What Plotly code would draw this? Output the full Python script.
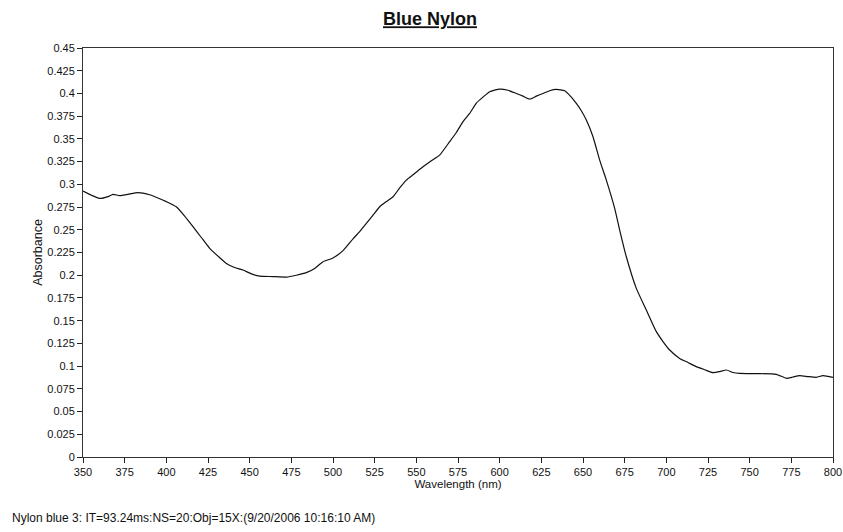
import plotly.graph_objects as go

wavelength = [350, 355, 360, 365, 368, 372, 377, 383, 390, 395, 400, 406, 411, 416, 421, 426,
              431, 436, 441, 446, 451, 456, 464, 472, 478, 484, 489, 494, 500, 506, 512, 516,
              520, 524, 528, 532, 536, 540, 544, 549, 554, 559, 564, 570, 574, 578, 582, 586,
              590, 594, 600, 605, 610, 614, 618, 622, 626, 630, 634, 639, 643, 646, 649, 652,
              656, 660, 664, 669, 672, 676, 682, 688, 694, 698, 702, 708, 713, 718, 723, 728,
              732, 736, 740, 744, 754, 766, 772, 776, 780, 785, 790, 794, 800]
absorbance = [0.2925, 0.288, 0.2845, 0.2865, 0.289, 0.2875, 0.289, 0.2908, 0.2885, 0.285, 0.281,
              0.2753, 0.265, 0.2534, 0.2415, 0.2296, 0.221, 0.213, 0.2085, 0.2057, 0.2015, 0.199,
              0.1985, 0.198, 0.200, 0.2028, 0.2075, 0.2149, 0.219, 0.227, 0.240, 0.248, 0.257,
              0.266, 0.2753, 0.281, 0.2863, 0.296, 0.3047, 0.312, 0.3193, 0.326, 0.3322, 0.347,
              0.357, 0.369, 0.378, 0.3894, 0.396, 0.4019, 0.4048, 0.4035, 0.400, 0.397, 0.3938,
              0.397, 0.400, 0.403, 0.4044, 0.403, 0.396, 0.389, 0.381, 0.3707, 0.3524, 0.3267,
              0.3047, 0.2736, 0.2497, 0.2203, 0.1855, 0.1617, 0.1379, 0.127, 0.1177, 0.1085,
              0.104, 0.0994, 0.096, 0.0928, 0.094, 0.0957, 0.093, 0.092, 0.0917, 0.091, 0.0866,
              0.088, 0.0895, 0.0885, 0.0877, 0.0895, 0.0877]

x_ticks = [350, 375, 400, 425, 450, 475, 500, 525, 550, 575, 600, 625, 650, 675, 700, 725, 750, 775, 800]
y_ticks = [0, 0.025, 0.05, 0.075, 0.1, 0.125, 0.15, 0.175, 0.2, 0.225, 0.25, 0.275, 0.3,
           0.325, 0.35, 0.375, 0.4, 0.425, 0.45]
y_tick_labels = ["0", "0.025", "0.05", "0.075", "0.1", "0.125", "0.15", "0.175", "0.2", "0.225",
                 "0.25", "0.275", "0.3", "0.325", "0.35", "0.375", "0.4", "0.425", "0.45"]

title_text = "Blue Nylon"
footnote = "Nylon blue 3: IT=93.24ms:NS=20:Obj=15X:(9/20/2006 10:16:10 AM)"

font_family = "Liberation Sans, Arial, sans-serif"

W, H = 843, 532
L, T, R, B = 83, 48, 10, 75
PW, PH = W - L - R, H - T - B

fig = go.Figure()
fig.add_trace(go.Scatter(x=wavelength, y=absorbance, mode="lines",
                         line=dict(color="#111111", width=1.2, shape="spline", smoothing=0.5),
                         showlegend=False, hoverinfo="skip"))

fig.update_layout(
    width=W, height=H,
    margin=dict(l=L, r=R, t=T, b=B, autoexpand=False),
    paper_bgcolor="white", plot_bgcolor="white",
    font=dict(family=font_family, color="#111111", size=11),
    title=dict(text="<b><u>" + title_text + "</u></b>", x=430 / W, xanchor="center",
               xref="container", y=1 - 19 / H, yref="container", yanchor="middle",
               automargin=False,
               font=dict(size=18, family=font_family, color="#111111")),
    xaxis=dict(range=[350, 800], tickvals=x_ticks, ticks="outside", ticklen=5, tickwidth=1,
               tickcolor="#222222", showgrid=False, zeroline=False, showline=True,
               linecolor="#333333", linewidth=1, mirror=True, automargin=False,
               title=dict(text="Wavelength (nm)", standoff=2, font=dict(size=11.5)),
               tickfont=dict(size=11)),
    yaxis=dict(range=[0, 0.45], tickvals=y_ticks, ticktext=y_tick_labels, ticks="outside",
               ticklen=5, tickwidth=1, tickcolor="#222222", showgrid=False, zeroline=False,
               showline=True, linecolor="#333333", linewidth=1, mirror=True, automargin=False,
               title=dict(text="Absorbance", standoff=1, font=dict(size=12.5)),
               tickfont=dict(size=11)),
)
fig.layout.annotations = [dict(text=footnote, xref="paper", yref="paper",
                               x=(10 - L) / PW, y=-(518 - (T + PH)) / PH, xanchor="left",
                               yanchor="middle", showarrow=False,
                               font=dict(size=12, family=font_family))]

fig.write_html("out.html",
               config={"displayModeBar": False},
               post_script="document.body.style.margin='0';document.body.style.overflow='hidden';")
